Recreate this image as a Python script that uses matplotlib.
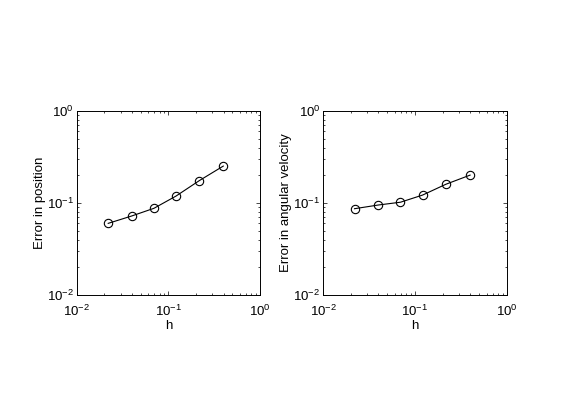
import matplotlib
matplotlib.use('Agg')
from matplotlib import pyplot as plt

plt.rcParams['font.family'] = ['Liberation Sans', 'DejaVu Sans']
plt.rcParams['mathtext.fontset'] = 'custom'
plt.rcParams['mathtext.rm'] = 'Liberation Sans'
plt.rcParams['mathtext.it'] = 'Liberation Sans'
plt.rcParams['font.size'] = 9.5

# step sizes and errors
h = [0.022, 0.0396, 0.0695, 0.121, 0.217, 0.397]
err_pos = [0.0601, 0.0722, 0.0876, 0.119, 0.175, 0.252]
err_ang = [0.0867, 0.095, 0.102, 0.122, 0.160, 0.201]
ylabels = ['Error in position', 'Error in angular velocity']

fig = plt.figure(figsize=(5.61, 4.2), dpi=100)
positions = [[0.137, 0.2976, 0.3265, 0.4381], [0.5758, 0.2976, 0.3279, 0.4381]]

for pos, err, lab in zip(positions, [err_pos, err_ang], ylabels):
    ax = fig.add_axes(pos)
    ax.loglog(h, err, color='black', lw=0.8, marker='o', markersize=6,
              markerfacecolor='none', markeredgewidth=0.8)
    ax.set_xlim(1e-2, 1)
    ax.set_ylim(1e-2, 1)
    ax.set_xlabel('h', labelpad=1)
    ax.set_ylabel(lab, labelpad=1)
    ax.tick_params(which='both', direction='in', top=True, right=True, width=0.5)
    ax.tick_params(which='major', length=3)
    ax.tick_params(which='minor', length=1.5)
    ax.tick_params(axis='x', which='major', pad=6)
    ax.tick_params(axis='y', which='major', pad=2)
    for s in ax.spines.values():
        s.set_linewidth(0.7)

fig.savefig('out.png', dpi=100)
